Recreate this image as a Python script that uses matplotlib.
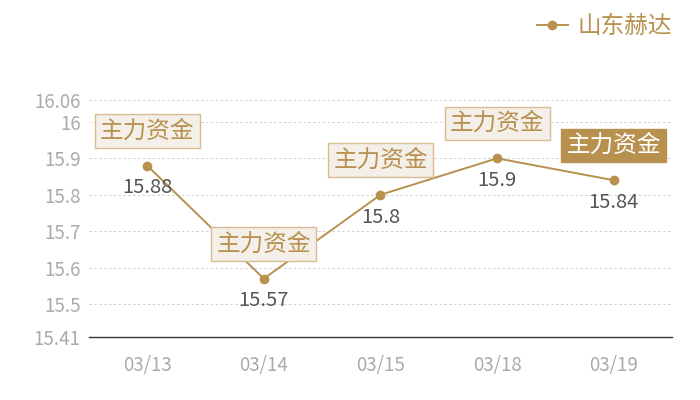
import matplotlib
matplotlib.use('Agg')
from matplotlib import pyplot as plt

plt.rcParams['font.family'] = ['Noto Sans CJK SC', 'DejaVu Sans']

dates = ['03/13', '03/14', '03/15', '03/18', '03/19']
prices = [15.88, 15.57, 15.8, 15.9, 15.84]
yticks = [15.41, 15.5, 15.6, 15.7, 15.8, 15.9, 16, 16.06]
series_name = '山东赫达'
tag = '主力资金'

gold = '#b8914f'

fig = plt.figure(figsize=(7, 4), dpi=100)
ax = fig.add_axes([0.127, 0.1575, 0.833, 0.5925])

x = list(range(len(dates)))
ax.plot(x, prices, color=gold, lw=1.4, marker='o', ms=6, label=series_name)

ax.set_xlim(-0.5, len(dates) - 0.5)
ax.set_ylim(15.41, 16.06)
ax.set_yticks(yticks)
ax.set_yticklabels([f'{v:g}' for v in yticks])
ax.set_xticks(x)
ax.set_xticklabels(dates)
ax.tick_params(axis='both', length=0, labelsize=13.5, labelcolor='#aaaaaa')
ax.tick_params(axis='x', pad=13)
ax.tick_params(axis='y', pad=6)

for v in yticks[1:]:
    ax.axhline(v, color='#d0d0d0', lw=0.7, ls=(0, (2.5, 2.5)), zorder=0)

for s in ['top', 'right', 'left']:
    ax.spines[s].set_visible(False)
ax.spines['bottom'].set_color('#333333')
ax.spines['bottom'].set_linewidth(1)

for i, p in enumerate(prices):
    ax.annotate(f'{p:g}', (i, p), xytext=(0, -16), textcoords='offset points',
                ha='center', va='center', fontsize=14.5, color='#555555')
    last = i == len(prices) - 1
    ax.annotate(tag, (i, p), xytext=(0, 25), textcoords='offset points',
                ha='center', va='center', fontsize=17,
                color='white' if last else gold,
                bbox=dict(boxstyle='square,pad=0.22',
                          fc=gold if last else '#f4efe8',
                          ec=gold if last else '#d6bb93', lw=1))

fig.legend(loc='upper right', bbox_to_anchor=(0.99, 1.015), frameon=False,
           fontsize=17, labelcolor=gold, handlelength=1.3, handletextpad=0.4)

fig.savefig('out.png')
